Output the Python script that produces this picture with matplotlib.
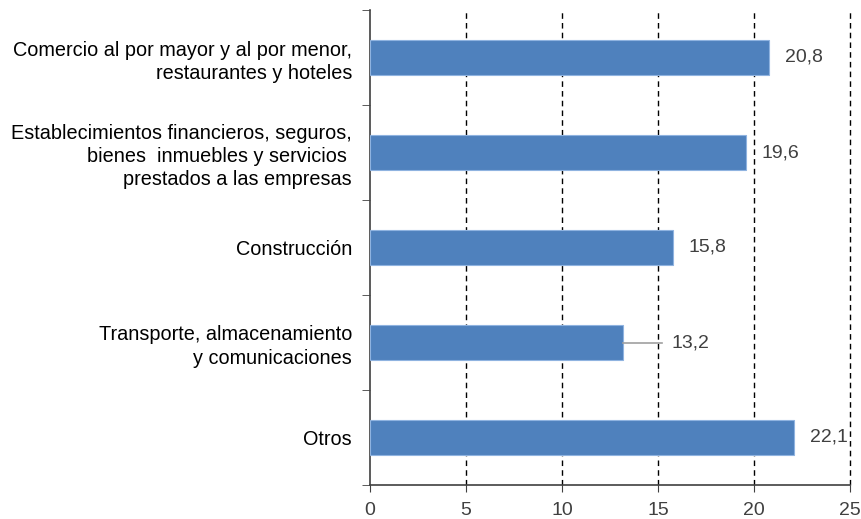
import matplotlib.pyplot as plt

plt.rcParams['font.family'] = ['Liberation Sans', 'DejaVu Sans']

# datos
categorias = ['Comercio al por mayor y al por menor,\nrestaurantes y hoteles',
              'Establecimientos financieros, seguros,\nbienes  inmuebles y servicios \nprestados a las empresas',
              'Construcción',
              'Transporte, almacenamiento\ny comunicaciones',
              'Otros']
valores = [20.8, 19.6, 15.8, 13.2, 22.1]
etiquetas = ['20,8', '19,6', '15,8', '13,2', '22,1']

fig = plt.figure(figsize=(8.62, 5.19), dpi=100)
ax = fig.add_axes([370/862, 1-485/519, 480/862, 475/519])

y = list(range(len(categorias)))
ax.barh(y, valores, height=0.36, color='#4f81bd', edgecolor='#8fb3e0', linewidth=0.8, zorder=3)

ax.set_xlim(0, 25)
ax.set_ylim(len(categorias)-0.5, -0.5)
ax.set_xticks([0, 5, 10, 15, 20, 25])
ax.set_xticklabels(['0', '5', '10', '15', '20', '25'], fontsize=14, color='#404040')
for xv in [5, 10, 15, 20, 25]:
    ax.axvline(xv, color='black', linestyle=(0, (4, 3)), linewidth=1, zorder=1, clip_on=False)

# categorias en el eje y, ticks entre categorias
ax.set_yticks(y)
ax.set_yticklabels(categorias, fontsize=14.3, color='black', ha='right', multialignment='right',
                   linespacing=1.28)
ax.tick_params(axis='y', length=0, pad=13)
ax.set_yticks([i-0.5 for i in range(len(categorias)+1)], minor=True)
ax.tick_params(axis='y', which='minor', length=6, color='#404040')
ax.tick_params(axis='x', length=5, color='#404040', pad=7)

for s in ['top', 'right']:
    ax.spines[s].set_visible(False)
for s in ['left', 'bottom']:
    ax.spines[s].set_color('#404040')
    ax.spines[s].set_linewidth(1.2)

# etiquetas de valores
for i, (v, t) in enumerate(zip(valores, etiquetas)):
    if i == 3:
        ax.plot([v, v+2.0], [i, i], color='#a0a0a0', linewidth=1.2, zorder=4)
        ax.text(v+2.5, i, t, va='center', ha='left', fontsize=14, color='#404040')
    else:
        ax.text(v+0.8, i, t, va='center', ha='left', fontsize=14, color='#404040')

fig.savefig('out.png', dpi=100)
